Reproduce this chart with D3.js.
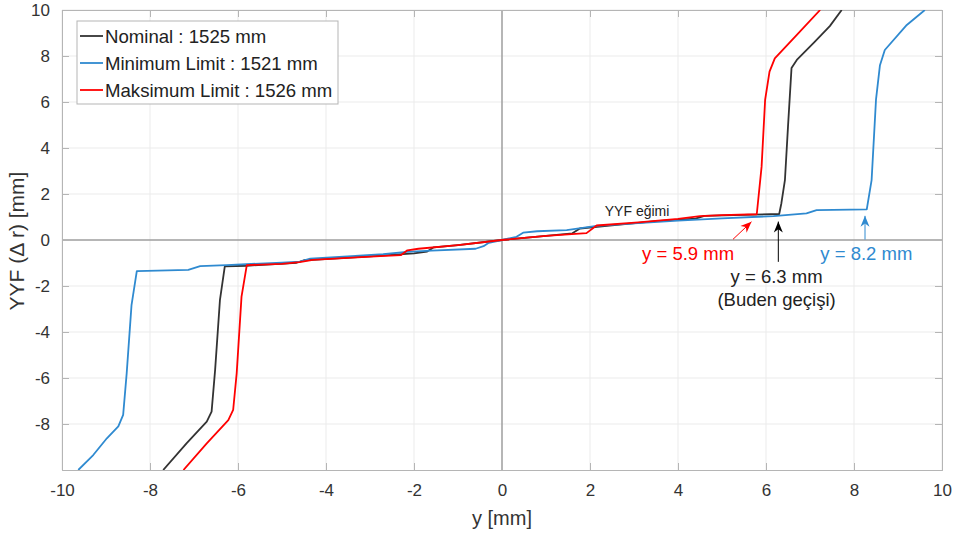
<!DOCTYPE html>
<html>
<head>
<meta charset="utf-8">
<script src="https://cdn.jsdelivr.net/npm/d3@7"></script>
<style>
  body { margin: 0; background: #fff; }
  svg { font-family: "Liberation Sans", Arial, sans-serif; }
</style>
</head>
<body>
<svg id="chart" width="954" height="536"></svg>
<script>
// x ticks and y ticks
const xTicks = [-10, -8, -6, -4, -2, 0, 2, 4, 6, 8, 10];
const yTicks = [-8, -6, -4, -2, 0, 2, 4, 6, 8, 10];

// curves: [y mm, YYF mm]
const nominal = [
  [-7.70, -10], [-7.17, -8.84], [-6.71, -7.90], [-6.60, -7.46], [-6.52, -5.65], [-6.41, -2.60],
  [-6.30, -1.15], [-5.80, -1.12], [-4.67, -0.99], [-4.50, -0.88], [-3.0, -0.71], [-2.0, -0.58],
  [-1.70, -0.50], [-1.55, -0.32], [-1.0, -0.22], [0, 0], [1.0, 0.18], [1.60, 0.29], [1.77, 0.50],
  [2.5, 0.64], [3.5, 0.82], [4.4, 0.93], [4.6, 1.05], [5.5, 1.09], [6.30, 1.13], [6.35, 1.6],
  [6.43, 2.6], [6.50, 4.93], [6.58, 7.48], [6.70, 7.83], [7.10, 8.60], [7.45, 9.30], [7.72, 10]
];
const minimum = [
  [-9.63, -10], [-9.29, -9.35], [-8.98, -8.62], [-8.72, -8.10], [-8.61, -7.60], [-8.53, -5.80],
  [-8.42, -2.83], [-8.30, -1.35], [-7.13, -1.30], [-6.86, -1.14], [-6.26, -1.09], [-5.0, -0.98],
  [-4.59, -0.94], [-4.36, -0.81], [-2.70, -0.62], [-2.17, -0.52], [-1.6, -0.46], [-0.6, -0.38],
  [-0.42, -0.27], [-0.3, -0.12], [0, 0], [0.33, 0.14], [0.48, 0.32], [0.8, 0.38], [1.47, 0.43],
  [2.15, 0.61], [3.0, 0.72], [4.0, 0.84], [5.0, 0.94], [6.17, 1.04], [6.92, 1.16], [7.15, 1.30],
  [8.29, 1.33], [8.40, 2.6], [8.50, 6.1], [8.59, 7.6], [8.70, 8.26], [9.20, 9.35], [9.61, 10]
];
const maximum = [
  [-7.24, -10], [-6.71, -8.84], [-6.22, -7.83], [-6.11, -7.39], [-6.03, -5.80], [-5.92, -2.46],
  [-5.80, -1.09], [-5.0, -1.04], [-4.6, -0.96], [-4.3, -0.86], [-3.5, -0.78], [-2.77, -0.70],
  [-2.3, -0.66], [-2.15, -0.45], [-1.9, -0.38], [-1.0, -0.22], [0, 0], [1.0, 0.18], [1.92, 0.30],
  [2.15, 0.63], [3.1, 0.77], [4.0, 0.92], [4.5, 1.04], [5.0, 1.08], [5.79, 1.12], [5.90, 3.19],
  [5.98, 6.09], [6.08, 7.32], [6.20, 7.90], [6.77, 9.06], [7.23, 10]
];

const seriesNames = ["Nominal : 1525 mm", "Minimum Limit : 1521 mm", "Maksimum Limit : 1526 mm"];
const seriesColors = ["#333333", "#2f8ad0", "#ff0000"];
const seriesData = [nominal, minimum, maximum];

const W = 954, H = 536;
const margin = {top: 10, right: 12, bottom: 66, left: 62};
const iw = W - margin.left - margin.right;
const ih = H - margin.top - margin.bottom;

const svg = d3.select("#chart");
const g = svg.append("g").attr("transform", `translate(${margin.left},${margin.top})`);

const x = d3.scaleLinear().domain([-10, 10]).range([0, iw]);
const y = d3.scaleLinear().domain([-10, 10]).range([ih, 0]);

// grid
g.append("g").selectAll("line").data(xTicks).enter().append("line")
  .attr("x1", d => x(d)).attr("x2", d => x(d)).attr("y1", 0).attr("y2", ih)
  .attr("stroke", "#ebebeb").attr("stroke-width", 1);
g.append("g").selectAll("line").data(yTicks).enter().append("line")
  .attr("y1", d => y(d)).attr("y2", d => y(d)).attr("x1", 0).attr("x2", iw)
  .attr("stroke", "#ebebeb").attr("stroke-width", 1);

// zero lines
g.append("line").attr("x1", 0).attr("x2", iw).attr("y1", y(0)).attr("y2", y(0))
  .attr("stroke", "#a0a0a0").attr("stroke-width", 1.5);
g.append("line").attr("x1", x(0)).attr("x2", x(0)).attr("y1", 0).attr("y2", ih)
  .attr("stroke", "#a0a0a0").attr("stroke-width", 1.5);

// axes with inward ticks
const axisB = g.append("g").attr("transform", `translate(0,${ih})`)
  .call(d3.axisBottom(x).tickValues(xTicks).tickSize(-7).tickPadding(14).tickFormat(d3.format("d")));
const axisL = g.append("g")
  .call(d3.axisLeft(y).tickValues(yTicks).tickSize(-7).tickPadding(12).tickFormat(d3.format("d")));
const axisT = g.append("g")
  .call(d3.axisTop(x).tickValues(xTicks).tickSize(-7).tickFormat(""));
const axisR = g.append("g").attr("transform", `translate(${iw},0)`)
  .call(d3.axisRight(y).tickValues(yTicks).tickSize(-7).tickFormat(""));

[axisB, axisL, axisT, axisR].forEach(a => {
  a.select(".domain").attr("stroke", "#b5b5b5");
  a.selectAll(".tick line").attr("stroke", "#b5b5b5");
  a.selectAll(".tick text").attr("fill", "#333").style("font-size", "17px");
});
axisB.selectAll(".tick text").text(d => d < 0 ? "-" + Math.abs(d) : d);
axisL.selectAll(".tick text").text(d => d < 0 ? "-" + Math.abs(d) : d);

// curves
const line = d3.line().x(d => x(d[0])).y(d => y(d[1]));
g.append("defs").append("clipPath").attr("id", "clip")
  .append("rect").attr("width", iw).attr("height", ih);
const curves = g.append("g").attr("clip-path", "url(#clip)");
seriesData.forEach((data, i) => {
  curves.append("path").datum(data)
    .attr("d", line)
    .attr("fill", "none")
    .attr("stroke", seriesColors[i])
    .attr("stroke-width", 1.8)
    .attr("stroke-linejoin", "round");
});

// axis labels
svg.append("text")
  .attr("x", margin.left + x(0)).attr("y", 525)
  .attr("text-anchor", "middle").attr("fill", "#333").style("font-size", "20px")
  .text("y [mm]");
svg.append("text")
  .attr("transform", "translate(24,241) rotate(-90)")
  .attr("text-anchor", "middle").attr("fill", "#333").style("font-size", "21px")
  .text("YYF (Δ r) [mm]");

// annotations
const ann = g.append("g");
ann.append("text").attr("x", x(3.07)).attr("y", y(1.27)).attr("dy", "0.35em")
  .attr("text-anchor", "middle").attr("fill", "#222").style("font-size", "14px")
  .text("YYF eğimi");

function arrow(x1, y1, x2, y2, color) {
  ann.append("line").attr("x1", x1).attr("y1", y1).attr("x2", x2).attr("y2", y2)
    .attr("stroke", color).attr("stroke-width", 1);
  const ang = Math.atan2(y2 - y1, x2 - x1);
  const len = 11, wid = 4.5;
  const bx = x2 - len * Math.cos(ang), by = y2 - len * Math.sin(ang);
  const px = -Math.sin(ang) * wid, py = Math.cos(ang) * wid;
  const mx = x2 - len * 0.7 * Math.cos(ang), my = y2 - len * 0.7 * Math.sin(ang);
  ann.append("path")
    .attr("d", `M${x2},${y2}L${bx + px},${by + py}L${mx},${my}L${bx - px},${by - py}Z`)
    .attr("fill", color);
}
// red 5.9
arrow(x(5.25), y(0.03), x(5.67), y(0.79), "#ff0000");
ann.append("text").attr("x", x(4.23)).attr("y", y(-0.6)).attr("dy", "0.35em")
  .attr("text-anchor", "middle").attr("fill", "#ff0000").style("font-size", "18.5px")
  .text("y = 5.9 mm");
// black 6.3
arrow(x(6.28), y(-0.95), x(6.28), y(0.8), "#000");
ann.append("text").attr("x", x(6.24)).attr("y", y(-1.58)).attr("dy", "0.35em")
  .attr("text-anchor", "middle").attr("fill", "#222").style("font-size", "18.5px")
  .text("y = 6.3 mm");
ann.append("text").attr("x", x(6.24)).attr("y", y(-2.6)).attr("dy", "0.35em")
  .attr("text-anchor", "middle").attr("fill", "#222").style("font-size", "18.5px")
  .text("(Buden geçişi)");
// blue 8.2
arrow(x(8.25), y(0.02), x(8.25), y(1.05), "#2f8ad0");
ann.append("text").attr("x", x(8.28)).attr("y", y(-0.58)).attr("dy", "0.35em")
  .attr("text-anchor", "middle").attr("fill", "#2f8ad0").style("font-size", "18.5px")
  .text("y = 8.2 mm");

// legend
const leg = svg.append("g").attr("transform", "translate(77,21)");
leg.append("rect").attr("width", 261).attr("height", 83)
  .attr("fill", "#fff").attr("stroke", "#b5b5b5").attr("stroke-width", 1);
seriesNames.forEach((name, i) => {
  const ly = 15 + i * 27;
  leg.append("line").attr("x1", 3).attr("x2", 26).attr("y1", ly).attr("y2", ly)
    .attr("stroke", seriesColors[i]).attr("stroke-width", 1.8);
  leg.append("text").attr("x", 28).attr("y", ly).attr("dy", "0.35em")
    .attr("fill", "#222").style("font-size", "18.6px").text(name);
});
</script>
</body>
</html>
